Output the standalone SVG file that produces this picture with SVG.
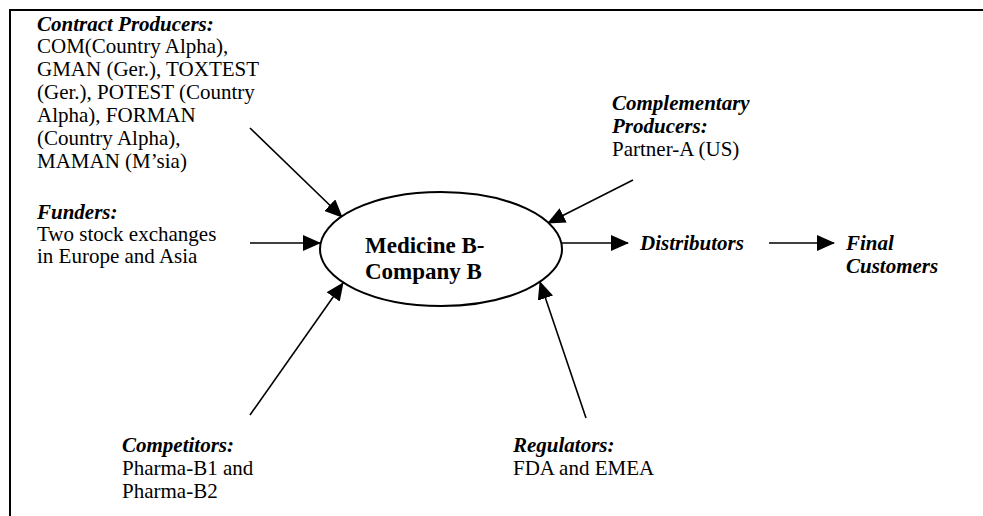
<svg xmlns="http://www.w3.org/2000/svg" width="983" height="516" viewBox="0 0 983 516">
  <style>
    text { font-family: "Liberation Serif", "Times New Roman", serif; font-size: 21px; fill: #000; }
    .hd { font-weight: bold; font-style: italic; }
    .core { font-weight: bold; font-size: 23px; }
    .frame { stroke: #000; stroke-width: 2; fill: none; }
    .link { stroke: #000; stroke-width: 1.6; fill: none; marker-end: url(#tip); }
  </style>
  <defs>
    <marker id="tip" markerUnits="userSpaceOnUse" markerWidth="18" markerHeight="16" refX="17" refY="8" orient="auto">
      <path d="M0,0 L18,8 L0,16 Z" fill="#000"/>
    </marker>
  </defs>

  <!-- page frame (top and left edges) -->
  <path class="frame" d="M983,10 H10 V516"/>

  <g id="connectors">
    <line class="link" x1="250" y1="128" x2="342" y2="217"/>
    <line class="link" x1="633" y1="180" x2="548" y2="223"/>
    <line class="link" x1="250" y1="243" x2="320" y2="243"/>
    <line class="link" x1="562" y1="243" x2="628" y2="243"/>
    <line class="link" x1="769" y1="243" x2="834" y2="243"/>
    <line class="link" x1="250" y1="415" x2="343" y2="283"/>
    <line class="link" x1="586" y1="418" x2="540" y2="282"/>
  </g>

  <g id="company">
    <ellipse cx="441" cy="249" rx="121" ry="57" fill="#fff" stroke="#000" stroke-width="2"/>
    <text class="core" x="365" y="253">Medicine B-</text>
    <text class="core" x="365" y="279">Company B</text>
  </g>

  <g id="contract-producers">
    <text class="hd" x="37" y="31">Contract Producers:</text>
    <text x="37" y="53">COM(Country Alpha),</text>
    <text x="37" y="76">GMAN (Ger.), TOXTEST</text>
    <text x="37" y="99">(Ger.), POTEST (Country</text>
    <text x="37" y="122">Alpha), FORMAN</text>
    <text x="37" y="145">(Country Alpha),</text>
    <text x="37" y="168">MAMAN (M’sia)</text>
  </g>

  <g id="funders">
    <text class="hd" x="37" y="219">Funders:</text>
    <text x="37" y="241">Two stock exchanges</text>
    <text x="37" y="263">in Europe and Asia</text>
  </g>

  <g id="complementary-producers">
    <text class="hd" x="612" y="110">Complementary</text>
    <text class="hd" x="612" y="133">Producers:</text>
    <text x="612" y="156">Partner-A (US)</text>
  </g>

  <g id="distributors">
    <text class="hd" x="640" y="250">Distributors</text>
  </g>

  <g id="final-customers">
    <text class="hd" x="846" y="250">Final</text>
    <text class="hd" x="846" y="273">Customers</text>
  </g>

  <g id="competitors">
    <text class="hd" x="122" y="452">Competitors:</text>
    <text x="122" y="475">Pharma-B1 and</text>
    <text x="122" y="498">Pharma-B2</text>
  </g>

  <g id="regulators">
    <text class="hd" x="513" y="452">Regulators:</text>
    <text x="513" y="475">FDA and EMEA</text>
  </g>
</svg>
